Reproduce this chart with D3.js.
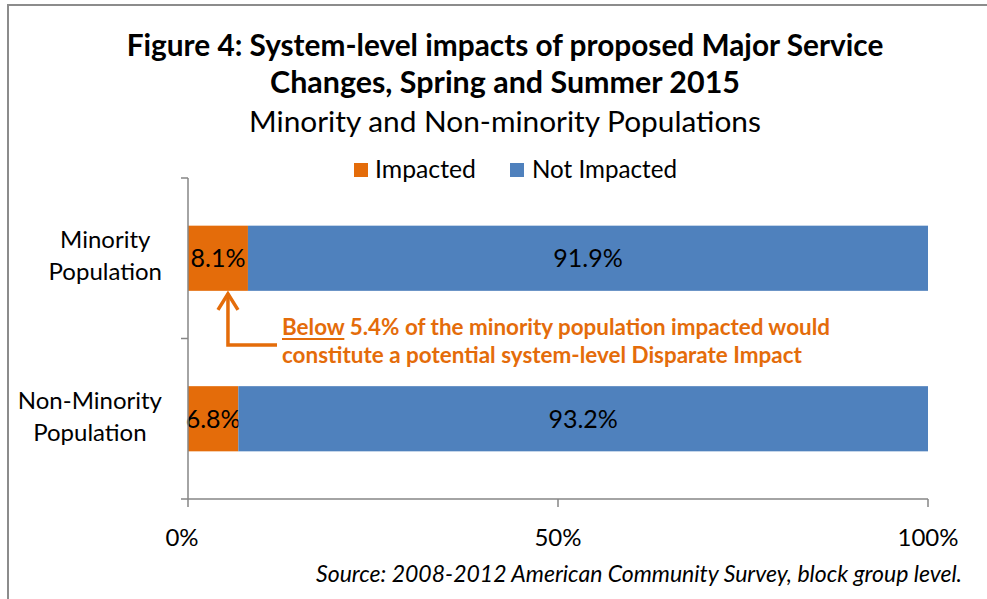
<!DOCTYPE html>
<html>
<head>
<meta charset="utf-8">
<script src="https://cdn.jsdelivr.net/npm/d3@7"></script>
<style>
  html, body { margin: 0; padding: 0; background: #fff; }
  svg { display: block; }
  text { font-family: Lato, "Open Sans", sans-serif; }
</style>
</head>
<body>
<svg id="chart" width="987" height="599"></svg>
<script>
// ---- data ----
const categories = ["Minority Population", "Non-Minority Population"];
const categoryLines = [["Minority", "Population"], ["Non-Minority", "Population"]];
const seriesNames = ["Impacted", "Not Impacted"];
const impacted = [8.1, 6.8];
const notImpacted = [91.9, 93.2];
const xTicks = [0, 50, 100];
const xTickLabels = ["0%", "50%", "100%"];
const titleLines = ["Figure 4: System-level impacts of proposed Major Service", "Changes, Spring and Summer 2015"];
const subtitle = "Minority and Non-minority Populations";
const annotationLines = ["5.4% of the minority population impacted would", "constitute a potential system-level Disparate Impact"];
const annotationLead = "Below";
const thresholdValue = 5.4;
const sourceText = "Source: 2008-2012 American Community Survey, block group level.";

// ---- styles ----
const colors = { "Impacted": "#E46C0A", "Not Impacted": "#4F81BD" };
const axisColor = "#868686";

const svg = d3.select("#chart");

// fit helper: scale font size so text reaches target width
function fit(sel, target) {
  const n = sel.node();
  const w = n.getComputedTextLength();
  const fs = parseFloat(sel.attr("font-size"));
  sel.attr("font-size", (fs * target / w).toFixed(2));
  return sel;
}

// frame
svg.append("path")
  .attr("d", "M8,599 L8,5 L987,5")
  .attr("fill", "none").attr("stroke", "#8c8c8c").attr("stroke-width", 2);

// scales
const plot = { left: 188, right: 928, top: 178, bottom: 499 };
const x = d3.scaleLinear().domain([0, 100]).range([plot.left, plot.right]);
const y = d3.scaleBand().domain(categories).range([plot.top, plot.bottom])
  .paddingInner(0.594).paddingOuter(0.297);

// titles
const cx = 505;
fit(svg.append("text").attr("x", cx).attr("y", 56).attr("text-anchor", "middle")
  .attr("font-size", 29).attr("font-weight", "bold").text(titleLines[0]), 757);
fit(svg.append("text").attr("x", cx).attr("y", 93).attr("text-anchor", "middle")
  .attr("font-size", 29).attr("font-weight", "bold").text(titleLines[1]), 470);
fit(svg.append("text").attr("x", cx).attr("y", 132).attr("text-anchor", "middle")
  .attr("font-size", 28).text(subtitle), 512);

// legend
const legendItems = [
  { name: seriesNames[0], sx: 354, tx: 375, tw: 101 },
  { name: seriesNames[1], sx: 510, tx: 532, tw: 145 }
];
legendItems.forEach(d => {
  svg.append("rect").attr("x", d.sx).attr("y", 163).attr("width", 14).attr("height", 14)
    .attr("fill", colors[d.name]);
  fit(svg.append("text").attr("x", d.tx).attr("y", 178).attr("font-size", 24).attr("fill", "#000")
    .text(d.name), d.tw);
});

// bars
const stacked = categories.map((c, i) => ({ cat: c, segs: [
  { name: seriesNames[0], x0: 0, x1: impacted[i], v: impacted[i] },
  { name: seriesNames[1], x0: impacted[i], x1: impacted[i] + notImpacted[i], v: notImpacted[i] }
]}));

const g = svg.append("g");
stacked.forEach(row => {
  row.segs.forEach(s => {
    g.append("rect")
      .attr("x", x(s.x0)).attr("y", y(row.cat))
      .attr("width", x(s.x1) - x(s.x0)).attr("height", y.bandwidth())
      .attr("fill", colors[s.name]);
    g.append("text")
      .attr("x", (x(s.x0) + x(s.x1)) / 2)
      .attr("y", y(row.cat) + y.bandwidth() / 2 + 9)
      .attr("text-anchor", "middle").attr("font-size", 25).attr("fill", "#000")
      .text(s.v.toFixed(1) + "%");
  });
});

// axes
const yAxis = svg.append("g").attr("transform", `translate(${plot.left},0)`);
yAxis.append("line").attr("x1", 0).attr("x2", 0).attr("y1", plot.top).attr("y2", plot.bottom)
  .attr("stroke", axisColor).attr("stroke-width", 1.5);
const yTickPos = [plot.top, plot.top + y.step(), plot.bottom];
yTickPos.forEach(p => {
  yAxis.append("line").attr("x1", -7).attr("x2", 0).attr("y1", p).attr("y2", p)
    .attr("stroke", axisColor).attr("stroke-width", 1.5);
});

const xAxis = svg.append("g").attr("transform", `translate(0,${plot.bottom})`);
xAxis.append("line").attr("x1", plot.left).attr("x2", plot.right).attr("y1", 0).attr("y2", 0)
  .attr("stroke", axisColor).attr("stroke-width", 1.5);
xTicks.forEach((t, i) => {
  xAxis.append("line").attr("x1", x(t)).attr("x2", x(t)).attr("y1", 0).attr("y2", 8)
    .attr("stroke", axisColor).attr("stroke-width", 1.5);
  xAxis.append("text").attr("x", x(t) - (i === 0 ? 6 : 0)).attr("y", 47)
    .attr("text-anchor", "middle").attr("font-size", 24).attr("fill", "#000")
    .text(xTickLabels[i]);
});

// category labels (right-aligned block, centred lines)
categories.forEach((c, i) => {
  const lines = categoryLines[i];
  const c0 = y(c) + y.bandwidth() / 2;
  const texts = lines.map((l, j) => svg.append("text")
    .attr("y", c0 - 10 + j * 32).attr("font-size", 24).attr("text-anchor", "middle")
    .attr("fill", "#000").text(l));
  const maxW = d3.max(texts, t => t.node().getComputedTextLength());
  texts.forEach(t => t.attr("x", 162 - maxW / 2));
});

// annotation arrow
const orange = colors["Impacted"];
const ax = x(thresholdValue);
const barBottom = y(categories[0]) + y.bandwidth();
svg.append("path")
  .attr("d", `M${ax},${barBottom + 3} L${ax},${345} L${277},${345}`)
  .attr("fill", "none").attr("stroke", orange).attr("stroke-width", 3.5);
svg.append("path")
  .attr("d", `M${ax - 10},${barBottom + 19} L${ax},${barBottom + 3} L${ax + 10},${barBottom + 19}`)
  .attr("fill", "none").attr("stroke", orange).attr("stroke-width", 3.5)
  .attr("stroke-linejoin", "miter");

// annotation text
const t1 = svg.append("text").attr("x", 282).attr("y", 335).attr("font-size", 20)
  .attr("font-weight", "bold").attr("fill", orange);
t1.append("tspan").attr("text-decoration", "underline").text(annotationLead);
t1.append("tspan").text(" " + annotationLines[0]);
fit(t1, 548);
const leadW = t1.select("tspan").node().getComputedTextLength();
svg.append("line").attr("x1", 282).attr("x2", 282 + leadW).attr("y1", 339).attr("y2", 339)
  .attr("stroke", orange).attr("stroke-width", 2);
t1.select("tspan").attr("text-decoration", null);
fit(svg.append("text").attr("x", 282).attr("y", 363).attr("font-size", 20)
  .attr("font-weight", "bold").attr("fill", orange).text(annotationLines[1]), 520);

// source
fit(svg.append("text").attr("x", 962).attr("y", 582).attr("text-anchor", "end")
  .attr("font-size", 20).attr("font-style", "italic").attr("fill", "#000").text(sourceText), 646);
</script>
</body>
</html>
